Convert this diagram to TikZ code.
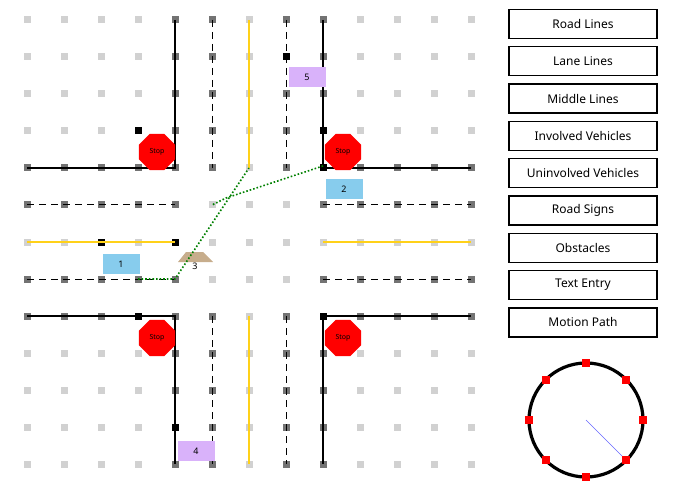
\documentclass[tikz,border=0pt]{standalone}
\usepackage{fontspec}
\setmainfont{Noto Sans}
\usetikzlibrary{shapes.geometric}
\usetikzlibrary{calc}
\definecolor{lgray}{rgb}{0.82,0.82,0.82}
\definecolor{dgray}{rgb}{0.45,0.45,0.45}
\definecolor{roadyellow}{rgb}{1,0.82,0.1}
\definecolor{carblue}{rgb}{0.53,0.8,0.93}
\definecolor{carpurple}{rgb}{0.85,0.7,0.98}
\definecolor{obstan}{rgb}{0.78,0.68,0.55}
\begin{document}
\begin{tikzpicture}[x=1pt, y=-1pt,
    dot/.style={fill=lgray, minimum size=7pt, inner sep=0pt},
    road/.style={black, line width=1.2pt},
    lane/.style={black, line width=1pt, dash pattern=on 7pt off 5pt},
    middle/.style={roadyellow, line width=2.2pt},
    stop/.style={regular polygon, regular polygon sides=8, fill=red, minimum size=39pt, inner sep=0pt, font=\fontsize{7}{8}\selectfont},
    car/.style={minimum width=37pt, minimum height=20pt, inner sep=0pt, font=\small},
    button/.style={draw, line width=1.2pt, minimum width=148pt, minimum height=29pt, inner sep=0pt, font=\fontsize{12}{14}\selectfont},
    path/.style={green!50!black, line width=1.6pt, dotted}]
    \useasboundingbox (0,0) rectangle (695,494);

    % Grid points
    \foreach \i in {0,...,12} {
        \foreach \j in {0,...,12} {
            \node[dot] at (27+37*\i, 20+37*\j) {};
        }
    }
    \foreach \i in {0,1,2,3,4,8,9,10,11,12} {
        \foreach \j in {4,5,7,8} {
            \node[dot, fill=dgray] at (27+37*\i, 20+37*\j) {};
            \node[dot, fill=dgray] at (27+37*\j, 20+37*\i) {};
        }
    }
    \foreach \p in {(138,131),(323,131),(286,57),(101,242),(175,242),(138,316),(323,316),(175,427),(323,168)}
        \node[dot, fill=black] at \p {};

    % Road lines
    \draw[road] (175,20) -- (175,168) -- (27,168);
    \draw[road] (323,20) -- (323,168) -- (471,168);
    \draw[road] (175,464) -- (175,316) -- (27,316);
    \draw[road] (323,464) -- (323,316) -- (471,316);

    % Lane lines
    \foreach \x in {212,286} {
        \draw[lane] (\x,20) -- (\x,168);
        \draw[lane] (\x,316) -- (\x,464);
    }
    \foreach \y in {205,279} {
        \draw[lane] (27,\y) -- (175,\y);
        \draw[lane] (323,\y) -- (471,\y);
    }

    % Middle lines
    \draw[middle] (249,20) -- (249,168);
    \draw[middle] (249,316) -- (249,464);
    \draw[middle] (27,242) -- (175,242);
    \draw[middle] (323,242) -- (471,242);

    % Road signs
    \node[stop] (stopnw) at (157,152) {Stop};
    \node[stop] (stopne) at (343,152) {Stop};
    \node[stop] (stopsw) at (157,338) {Stop};
    \node[stop] (stopse) at (343,338) {Stop};

    % Vehicles
    \node[car, fill=carblue] (car1) at (121,264) {1};
    \node[car, fill=carblue] (car2) at (344,189) {2};
    \node[car, fill=carpurple] (car5) at (307,77) {5};
    \node[car, fill=carpurple] (car4) at (196,451) {4};

    % Obstacle
    \fill[obstan] (178,262) -- (186,252) -- (203,252) -- (213,262) -- cycle;
    \node[font=\small] (obs3) at (195,266) {3};

    % Motion path
    \coordinate (m1) at (138,279);
    \coordinate (m2) at (175,279);
    \coordinate (m3) at (249,168);
    \coordinate (m4) at (323,166);
    \coordinate (m5) at (226,198);
    \coordinate (m6) at (212,205);
    \draw[path] (m1) -- (m2) -- (m3);
    \draw[path] (m4) -- (m5) -- (m6);

    % Tool buttons
    \foreach \t [count=\k from 0] in {Road Lines, Lane Lines, Middle Lines, Involved Vehicles, Uninvolved Vehicles, Road Signs, Obstacles, Text Entry, Motion Path}
        \node[button] (btn\k) at (583, 24+37.3*\k) {\t};

    % Rotation dial
    \node[circle, draw, line width=3.2pt, minimum size=114pt, inner sep=0pt] (dial) at (586,420) {};
    \draw[blue!60, thin] (dial.center) -- (dial.-45);
    \foreach \a in {0,45,...,315}
        \fill[red] ($(dial.center)+(\a:57)$) ++(-4,-4) rectangle ++(8,8);
\end{tikzpicture}
\end{document}
